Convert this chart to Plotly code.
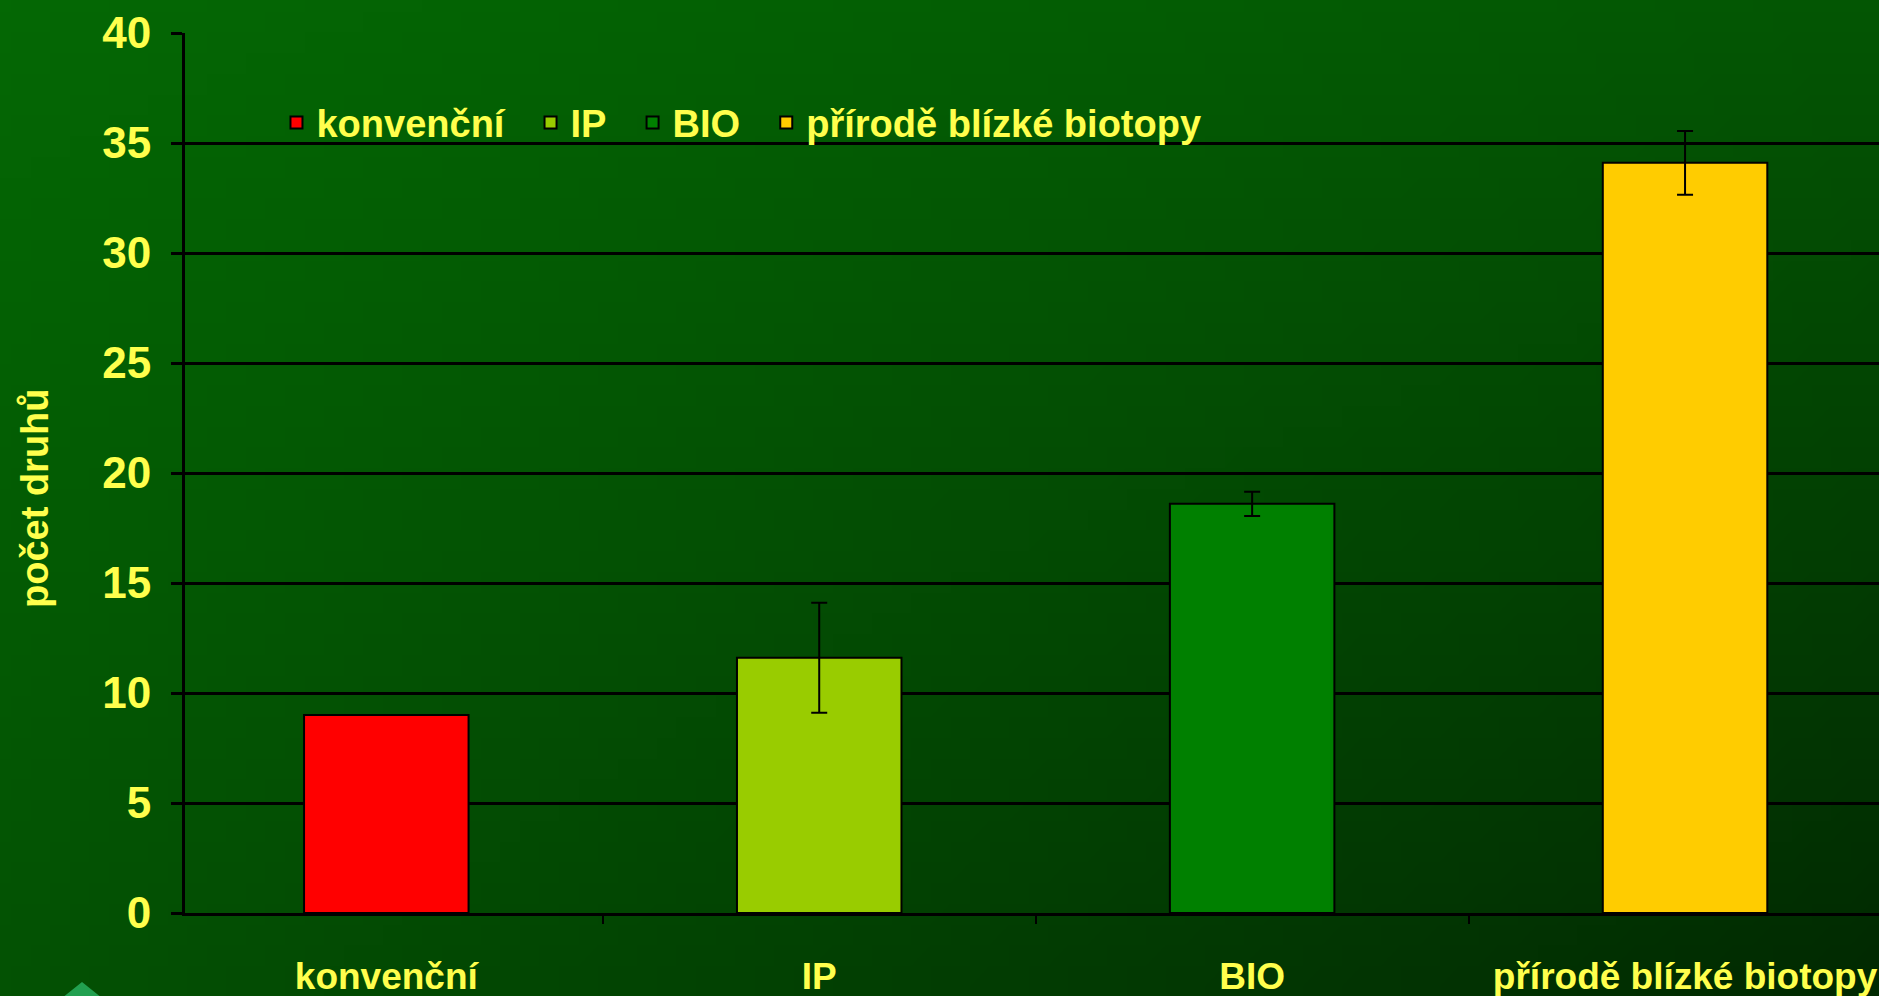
import base64
import struct
import zlib

import numpy as np
import plotly.graph_objects as go

# ---------------- data ----------------
categories = ["konvenční", "IP", "BIO", "přírodě blízké biotopy"]
values = [9.0, 11.6, 18.6, 34.1]
errors = [None, 2.5, 0.55, 1.45]
colors = ["#FF0000", "#99CC00", "#008000", "#FFCC00"]
y_ticks = [0, 5, 10, 15, 20, 25, 30, 35, 40]
y_title = "počet druhů"

# ---------------- layout geometry ----------------
W, H = 1879, 996
ML, MR, MT, MB = 185, 0, 33, 83
PW, PH = W - ML - MR, H - MT - MB
YELLOW = "#FFFF4D"
FONT = "Liberation Sans, Arial, sans-serif"
LEGEND_PAD = "\u00a0\u00a0"


def png_data_uri(arr):
    h, w, _ = arr.shape
    raw = b"".join(b"\x00" + arr[r].tobytes() for r in range(h))

    def chunk(tag, data):
        c = struct.pack(">I", len(data)) + tag + data
        return c + struct.pack(">I", zlib.crc32(tag + data) & 0xFFFFFFFF)

    png = b"\x89PNG\r\n\x1a\n"
    png += chunk(b"IHDR", struct.pack(">IIBBBBB", w, h, 8, 2, 0, 0, 0))
    png += chunk(b"IDAT", zlib.compress(raw, 9))
    png += chunk(b"IEND", b"")
    return "data:image/png;base64," + base64.b64encode(png).decode()


# background gradient (lighter top-left, darker bottom-right)
gw, gh = 96, 48
xs = np.linspace(0, 1, gw)[None, :]
ys = np.linspace(0, 1, gh)[:, None]
tl, tr, bl, br = 104.0, 86.0, 82.0, 42.0
g = tl * (1 - xs) * (1 - ys) + tr * xs * (1 - ys) + bl * (1 - xs) * ys + br * xs * ys
img = np.zeros((gh, gw, 3), dtype=np.uint8)
img[..., 0] = np.clip(g * 0.04, 0, 255).astype(np.uint8)
img[..., 1] = np.clip(g, 0, 255).astype(np.uint8)
img[..., 2] = np.clip(g * 0.04, 0, 255).astype(np.uint8)
bg_uri = png_data_uri(img)


def px2paper(px, py):
    return (px - ML) / PW, (H - MB - py) / PH


fig = go.Figure()
for cat, val, err, col in zip(categories, values, errors, colors):
    kw = {}
    if err is not None:
        kw["error_y"] = dict(type="data", array=[err], visible=True,
                             color="black", thickness=2, width=8)
    fig.add_trace(go.Bar(
        x=[cat], y=[val], name=cat + LEGEND_PAD, width=0.38,
        marker=dict(color=col, line=dict(color="black", width=2)),
        **kw,
    ))

# small decorative triangle bottom-left
ax, ay = px2paper(82, 982)
bx1, by1 = px2paper(57, 1002)
bx2, by2 = px2paper(107, 1002)

# y-axis title position (pixels -> paper)
tx, ty = px2paper(35, 498)

fig.update_layout(
    width=W, height=H,
    margin=dict(l=ML, r=MR, t=MT, b=MB),
    paper_bgcolor="#005000",
    plot_bgcolor="rgba(0,0,0,0)",
    barmode="overlay",
    showlegend=True,
    legend=dict(
        orientation="h", x=0.054, y=0.898, xanchor="left", yanchor="middle",
        bgcolor="rgba(0,0,0,0)",
        font=dict(family=FONT, size=38, color=YELLOW, weight="bold"),
        itemwidth=30, tracegroupgap=0,
    ),
    font=dict(family=FONT, color=YELLOW),
    images=[dict(
        source=bg_uri, xref="paper", yref="paper",
        x=-ML / PW, y=1 + MT / PH, sizex=W / PW, sizey=H / PH,
        xanchor="left", yanchor="top", sizing="stretch", layer="below",
    )],
    shapes=[dict(
        type="path", xref="paper", yref="paper",
        path=f"M{ax},{ay} L{bx1},{by1} L{bx2},{by2} Z",
        fillcolor="#22A050", line=dict(width=0),
    )],
    annotations=[dict(
        text=y_title, xref="paper", yref="paper", x=tx, y=ty,
        xanchor="center", yanchor="middle", textangle=-90, showarrow=False,
        font=dict(family=FONT, size=38, color=YELLOW, weight="bold"),
    )],
)

fig.update_xaxes(
    type="category", categoryorder="array", categoryarray=categories,
    range=[-0.465, 3.448],
    showline=True, linecolor="black", linewidth=3,
    ticks="outside", tickson="boundaries", ticklen=8, tickwidth=2, tickcolor="black",
    showgrid=False, zeroline=False,
    tickfont=dict(family=FONT, size=37, color=YELLOW, weight="bold"),
    ticklabelstandoff=29,
    automargin=False,
)
fig.update_yaxes(
    range=[0, 40], tickvals=y_ticks,
    showline=True, linecolor="black", linewidth=3,
    ticks="outside", ticklen=11, tickwidth=3, tickcolor="black",
    showgrid=True, gridcolor="black", gridwidth=3,
    zeroline=False,
    tickfont=dict(family=FONT, size=44, color=YELLOW, weight="bold"),
    ticklabelstandoff=11,
    automargin=False,
)

fig.write_html(
    "out.html",
    config={"displayModeBar": False},
    post_script="document.body.style.margin='0';document.body.style.overflow='hidden';",
)
